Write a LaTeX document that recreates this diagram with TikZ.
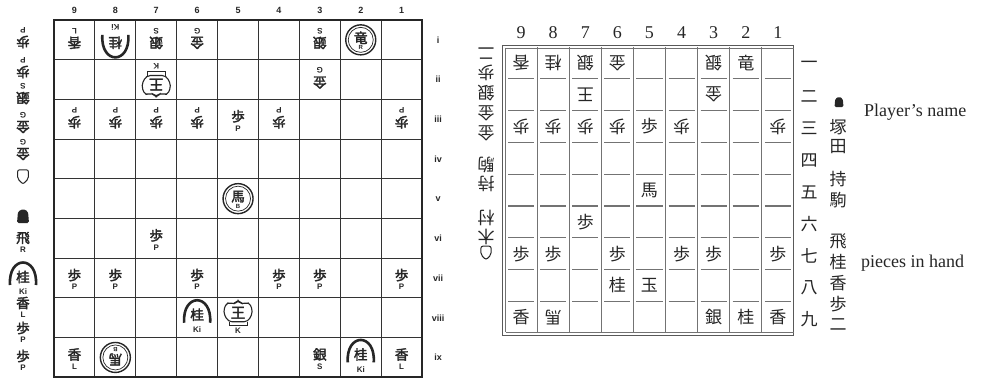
\documentclass[tikz,border=0pt]{standalone}
\usepackage{fontspec}
\setmainfont{Liberation Serif}
\newfontfamily\cjk{Noto Sans CJK JP}
\newfontfamily\cjkb[FakeBold=2.5]{Noto Sans CJK JP}
\newfontfamily\lab{Liberation Sans}
\newcommand{\LX}[1]{54+(9-#1+0.5)*40.9}
\newcommand{\LY}[1]{20+(#1-0.5)*39.7}
\newcommand{\RX}[1]{505+(9-#1+0.5)*32.1}
\newcommand{\RY}[1]{47+(#1-0.5)*31.8}
\tikzset{
  lk/.style={inner sep=0pt,text=black!85,font=\cjkb\fontsize{13.5}{13.5}\selectfont},
  lkb/.style={inner sep=0pt,text=black!85,font=\cjkb\fontsize{14.5}{14.5}\selectfont},
  ll/.style={inner sep=0pt,text=black!85,font=\lab\bfseries\fontsize{8}{8}\selectfont},
  lls/.style={inner sep=0pt,text=black!85,font=\lab\bfseries\fontsize{6}{6}\selectfont},
  lnum/.style={inner sep=0pt,text=black!85,font=\lab\bfseries\fontsize{9}{9}\selectfont},
  rk/.style={inner sep=0pt,text=black!85,font=\cjk\fontsize{17}{17}\selectfont},
  rnum/.style={inner sep=0pt,text=black!85,font=\fontsize{18}{18}\selectfont},
  side/.style={inner sep=0pt,text=black!85,font=\cjk\fontsize{17}{17}\selectfont},
  eng/.style={inner sep=0pt,anchor=west,text=black!85,font=\fontsize{18}{18}\selectfont},
  lframe/.style={line width=2pt,draw=black!85},
  lgrid/.style={line width=1.1pt,draw=black!80},
  rgrid/.style={line width=0.8pt,draw=black!55},
  rseg/.style={line width=1.1pt,draw=black!55},
  pcline/.style={draw=black!85},
}
\newcommand{\pcplain}[6]{%
 \begin{scope}[shift={({#1},{#2})},rotate=#3]
 \node[lk,rotate=#3] (#6k) at (0,-3) {#4};
 \node[ll,rotate=#3] (#6l) at (0,9) {#5};
 \end{scope}}
\newcommand{\pcknight}[6]{%
 \begin{scope}[shift={({#1},{#2})},rotate=#3]
 \draw[pcline,line width=2.6pt] (-13,5) .. controls (-15,-25) and (15,-25) .. (13,5);
 \node[lk,rotate=#3] (#6k) at (0,-3) {#4};
 \node[ll,rotate=#3] (#6l) at (0,12) {#5};
 \end{scope}}
\newcommand{\pcking}[6]{%
 \begin{scope}[shift={({#1},{#2})},rotate=#3]
 \draw[pcline,line width=1.1pt,rounded corners=4pt] (-10,4) -- (-15,-6) -- (-11,-16) -- (-4,-13) -- (0,-18) -- (4,-13) -- (11,-16) -- (15,-6) -- (10,4) -- cycle;
 \draw[pcline,line width=1.1pt] (-9,4) -- (-9,8) -- (9,8) -- (9,4);
 \node[lkb,rotate=#3] (#6k) at (0,-5) {#4};
 \node[ll,rotate=#3] (#6l) at (0,13) {#5};
 \end{scope}}
\newcommand{\pcpromo}[6]{%
 \begin{scope}[shift={({#1},{#2})},rotate=#3]
 \draw[pcline,line width=1.4pt] (0,0) circle (15pt);
 \draw[pcline,line width=0.7pt] (0,0) circle (12.5pt);
 \node[lk,rotate=#3] (#6k) at (0,-2) {#4};
 \node[lls,rotate=#3] (#6l) at (0,8) {#5};
 \end{scope}}
\newcommand{\senteMark}[3]{%
 \fill[black!85,rounded corners=1.5pt,shift={({#1},{#2})},scale=#3] (0,-7) -- (5,-4.5) -- (6,7) -- (-6,7) -- (-5,-4.5) -- cycle;}
\newcommand{\goteMark}[3]{%
 \draw[black!85,line width=1pt,rounded corners=2pt,shift={({#1},{#2})},scale=#3] (-6,-8) -- (6,-8) -- (6,2) -- (0,8) -- (-6,2) -- cycle;}
\begin{document}
\begin{tikzpicture}[x=1pt,y=-1pt]
\useasboundingbox (0,0) rectangle (982,382);
\fill[white] (0,0) rectangle (982,382);
% ================= LEFT BOARD =================
\foreach \i in {1,...,8} {
  \draw[lgrid] ({54+\i*40.9},20) -- ({54+\i*40.9},377.3);
  \draw[lgrid] (54,{20+\i*39.7}) -- (422.1,{20+\i*39.7});
}
\draw[lframe] (54,20) rectangle (422.1,377.3);
\foreach \c in {1,...,9} {
  \node[lnum] (lc\c) at ({\LX{\c}},10) {\c};
}
\foreach \r/\t in {1/i,2/ii,3/iii,4/iv,5/v,6/vi,7/vii,8/viii,9/ix} {
  \node[lnum] (lr\r) at (438,{\LY{\r}}) {\t};
}
% plain pieces
\foreach \c/\r/\k/\t/\a in {9/1/香/L/180,7/1/銀/S/180,6/1/金/G/180,3/1/銀/S/180,3/2/金/G/180,
  9/3/歩/P/180,8/3/歩/P/180,7/3/歩/P/180,6/3/歩/P/180,5/3/歩/P/0,4/3/歩/P/180,1/3/歩/P/180,
  7/6/歩/P/0,9/7/歩/P/0,8/7/歩/P/0,6/7/歩/P/0,4/7/歩/P/0,3/7/歩/P/0,1/7/歩/P/0,
  9/9/香/L/0,3/9/銀/S/0,1/9/香/L/0} {
  \pcplain{\LX{\c}}{\LY{\r}}{\a}{\k}{\t}{L\c\r}
}
\foreach \c/\r/\a in {8/1/180,6/8/0,2/9/0} {
  \pcknight{\LX{\c}}{\LY{\r}}{\a}{桂}{Ki}{L\c\r}
}
\foreach \c/\r/\a in {7/2/180,5/8/0} {
  \pcking{\LX{\c}}{\LY{\r}}{\a}{王}{K}{L\c\r}
}
\foreach \c/\r/\k/\t/\a in {2/1/竜/R/0,5/5/馬/B/0,8/9/馬/B/180} {
  \pcpromo{\LX{\c}}{\LY{\r}}{\a}{\k}{\t}{L\c\r}
}
% pieces in hand (left board)
\foreach \y/\k/\t [count=\n] in {39/歩/P,69/歩/P,95/銀/S,124/金/G,151/金/G} {
  \pcplain{23}{\y}{180}{\k}{\t}{gh\n}
}
\goteMark{23}{177}{0.9}
\senteMark{23}{216}{1}
\foreach \y/\k/\t [count=\n] in {241/飛/R,306/香/L,331/歩/P,359/歩/P} {
  \pcplain{23}{\y}{0}{\k}{\t}{sh\n}
}
\pcknight{23}{280}{0}{桂}{Ki}{shk}
% ================= RIGHT BOARD =================
\foreach \i in {1,...,8} {
  \draw[rgrid] ({505+\i*32.1},47) -- ({505+\i*32.1},333);
}
\foreach \j in {1,...,8} {
  \foreach \i in {0,...,8} {
    \draw[rseg] ({505+\i*32.1+3},{47+\j*31.8}) -- ({505+(\i+1)*32.1-3},{47+\j*31.8});
  }
}
\draw[line width=0.9pt,draw=black!65] (502.5,45) rectangle (793.9,335);
\draw[line width=0.9pt,draw=black!55] (505.5,48) -- (505.5,332);
\draw[line width=0.9pt,draw=black!55] (505.5,48) -- (793.9,48);
\draw[line width=0.9pt,draw=black!55] (505.5,332) -- (793.9,332);
\foreach \c in {1,...,9} {
  \node[rnum] (rc\c) at ({\RX{\c}},33) {\c};
}
\foreach \r/\t in {1/一,2/二,3/三,4/四,5/五,6/六,7/七,8/八,9/九} {
  \node[side] (rr\r) at (809,{\RY{\r}+2}) {\t};
}
\foreach \c/\r/\k/\a in {9/1/香/180,8/1/桂/180,7/1/銀/180,6/1/金/180,3/1/銀/180,2/1/竜/0,
  7/2/王/180,3/2/金/180,
  9/3/歩/180,8/3/歩/180,7/3/歩/180,6/3/歩/180,5/3/歩/0,4/3/歩/180,1/3/歩/180,
  5/5/馬/0,7/6/歩/0,
  9/7/歩/0,8/7/歩/0,6/7/歩/0,4/7/歩/0,3/7/歩/0,1/7/歩/0,
  6/8/桂/0,5/8/玉/0,
  9/9/香/0,8/9/馬/180,3/9/銀/0,2/9/桂/0,1/9/香/0} {
  \node[rk,rotate=\a] (R\c\r) at ({\RX{\c}},{\RY{\r}}) {\k};
}
% gote side text (inverted)
\foreach \y/\k [count=\n] in {53/二,73/歩,93/銀,113/金,133/金,165/駒,184/持,218/村,237/木} {
  \node[side,rotate=180] (gt\n) at (486,\y) {\k};
}
\goteMark{486}{253}{0.85}
% sente side text
\senteMark{839}{102}{0.75}
\foreach \y/\k [count=\n] in {127/塚,147/田,179/持,200/駒,241/飛,262/桂,283/香,304/歩,325/二} {
  \node[side] (st\n) at (838,\y) {\k};
}
\node[eng] (pname) at (864,112) {Player's name};
\node[eng] (phand) at (861,263) {pieces in hand};
\end{tikzpicture}
\end{document}
